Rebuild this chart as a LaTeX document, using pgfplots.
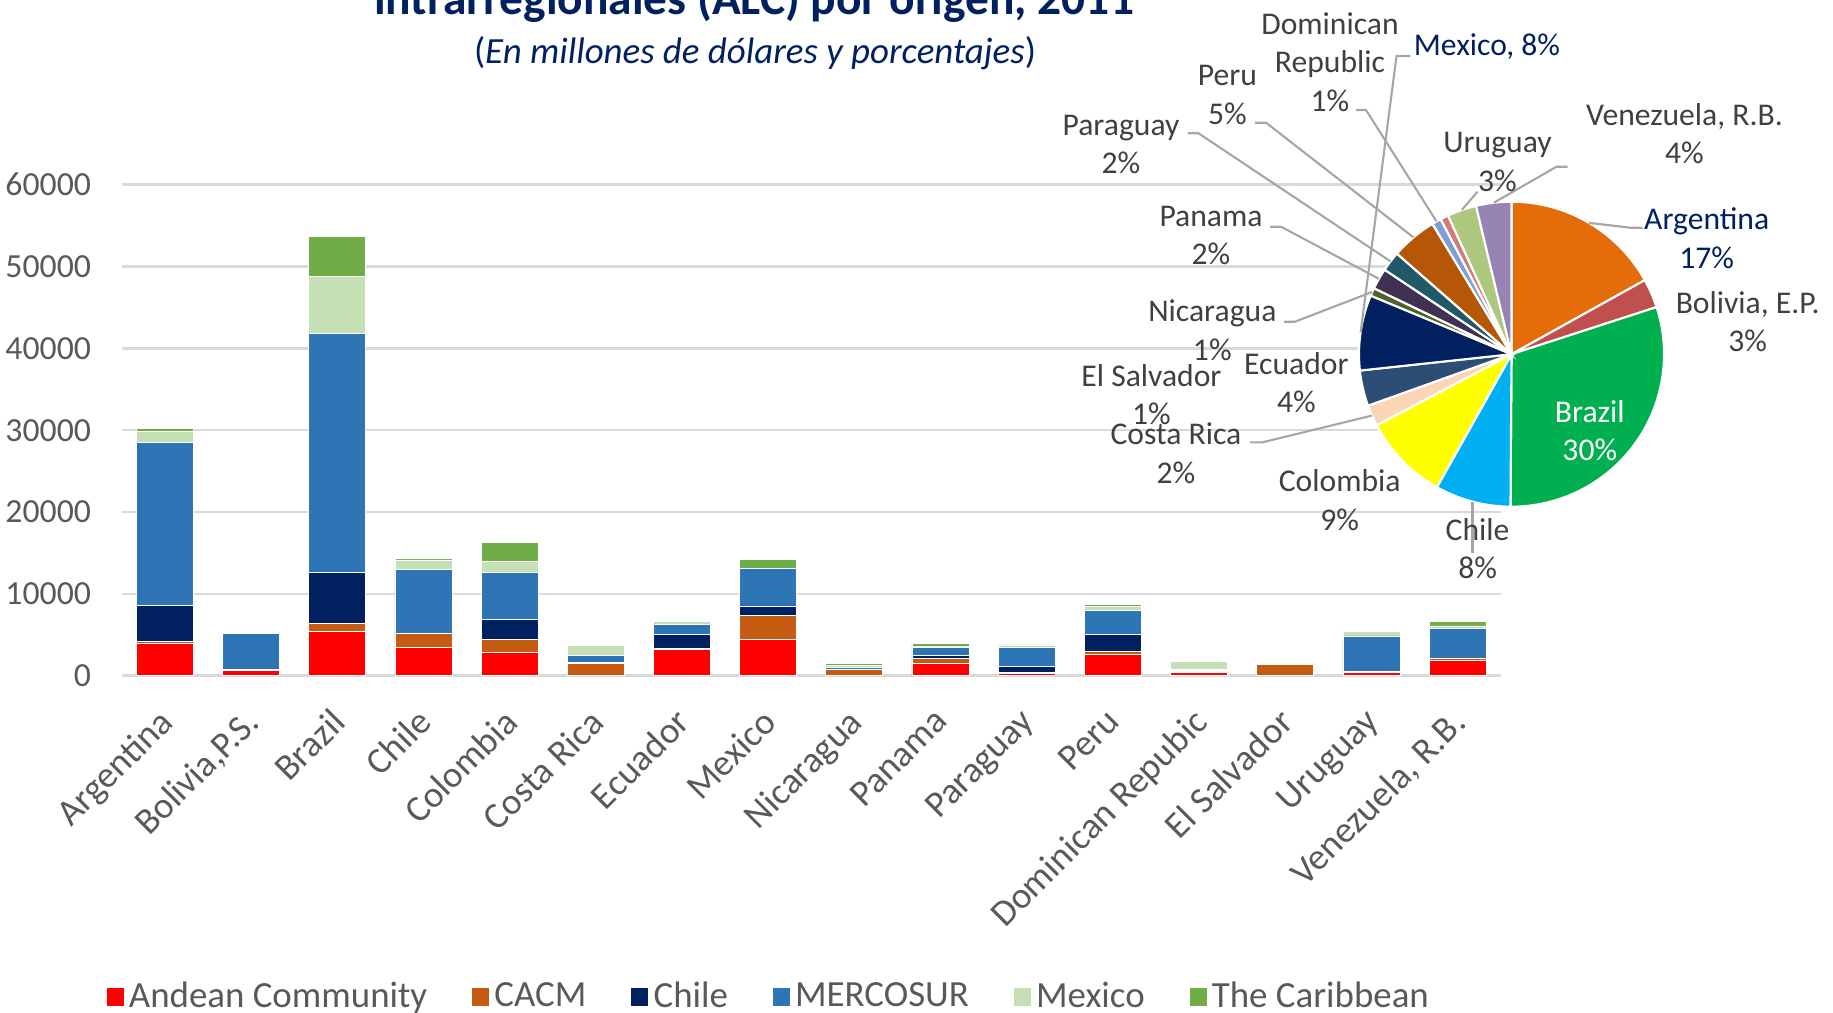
\documentclass[border=0pt]{standalone}
\usepackage{pgfplots}
\pgfplotsset{compat=1.18}
\usepackage{pgfplotstable}
\usepackage{fontspec}
\setmainfont{Carlito}
\usetikzlibrary{calc}

\definecolor{cAnd}{HTML}{FF0000}
\definecolor{cCACM}{HTML}{C55A11}
\definecolor{cChi}{HTML}{002060}
\definecolor{cMer}{HTML}{2E75B6}
\definecolor{cMex}{HTML}{C5E0B4}
\definecolor{cCar}{HTML}{70AD47}
\definecolor{tickgray}{HTML}{595959}
\definecolor{labgray}{HTML}{404040}
\definecolor{gridgray}{HTML}{D9D9D9}
\definecolor{navy}{HTML}{002060}
\definecolor{leadgray}{HTML}{A6A6A6}
% pie colours
\definecolor{pArg}{HTML}{E46C0A}
\definecolor{pBol}{HTML}{C0504D}
\definecolor{pBra}{HTML}{00B050}
\definecolor{pChi}{HTML}{00B0F0}
\definecolor{pCol}{HTML}{FFFF00}
\definecolor{pCR}{HTML}{FBD5B5}
\definecolor{pEcu}{HTML}{2C4D75}
\definecolor{pMex}{HTML}{002060}
\definecolor{pNic}{HTML}{4F6228}
\definecolor{pPan}{HTML}{403152}
\definecolor{pPar}{HTML}{215968}
\definecolor{pPer}{HTML}{B65708}
\definecolor{pDom}{HTML}{7CA0D4}
\definecolor{pSal}{HTML}{D07C7A}
\definecolor{pUru}{HTML}{ADC77E}
\definecolor{pVen}{HTML}{9883B5}

% FDI inflows by origin region (millions USD), one row per recipient country
\pgfplotstableread{
x andean cacm chile mercosur mexico carib
0 4000 200 4370 19900 1380 340
1 610 50 150 4360 160 0
2 5410 1020 6160 29200 7010 4880
3 3460 1750 0 7730 1210 170
4 2850 1550 2480 5750 1310 2310
5 100 1370 160 850 1220 170
6 3220 160 1670 1220 320 80
7 4410 2940 1180 4570 0 1140
8 30 700 30 300 160 240
9 1470 690 290 1060 80 370
10 330 120 650 2410 240 20
11 2570 410 2040 2940 490 240
12 450 120 50 200 930 20
13 0 1350 0 40 120 20
14 370 60 140 4290 570 80
15 1840 240 80 3670 250 570
}\data

% pie slice: start angle, end angle (math degrees), colour
\newcommand\pieslice[3]{\fill[#3, draw=white, line width=0.6pt] (axis cs:0,0) -- (axis cs:{cos(#1)},{sin(#1)}) arc[start angle=#1, end angle=#2, radius=1.525cm] -- cycle;}

\begin{document}
\begin{tikzpicture}
\useasboundingbox (0,0) rectangle (18.33cm,10.12cm);

% titles
\node[anchor=base, text=navy, font=\fontsize{13.5}{16}\selectfont\bfseries] at (7.54cm,9.98cm) {intrarregionales (ALC) por origen, 2011};
\node[anchor=base, text=navy, font=\fontsize{10.5}{13}\selectfont] at (7.55cm,9.49cm) {(\textit{En millones de dólares y porcentajes})};

\begin{axis}[
  at={(1.217cm,3.363cm)}, anchor=south west,
  width=13.79cm, height=4.91cm, scale only axis,
  xmin=-0.5, xmax=15.5, ymin=0, ymax=60000,
  ybar stacked, bar width=0.57cm,
  axis line style={draw=none},
  tick style={draw=none},
  ymajorgrids, grid style={gridgray, line width=0.7pt},
  ytick={0,10000,20000,30000,40000,50000,60000},
  scaled y ticks=false,
  /pgf/number format/assume math mode=true,
  yticklabel style={/pgf/number format/1000 sep={}, font=\fontsize{9.6}{12}\selectfont, text=tickgray, inner sep=0pt, xshift=-0.30cm},
  xtick={0,...,15},
  xticklabels={Argentina,{Bolivia,P.S.},Brazil,Chile,Colombia,Costa Rica,Ecuador,Mexico,Nicaragua,Panama,Paraguay,Peru,Dominican Repubic,El Salvador,Uruguay,{Venezuela, R.B.}},
  xticklabel style={font=\fontsize{10.5}{12}\selectfont, text=tickgray, inner sep=0pt, xshift=-0.08cm, yshift=-0.30cm, rotate=45, anchor=north east},
  legend columns=6,
  legend style={draw=none, fill=none, at={(-0.0121,-0.655)}, anchor=west, inner sep=0pt,
    font=\fontsize{10.5}{12}\selectfont, text=tickgray,
    nodes={inner sep=0.045cm},
    /tikz/every even column/.append style={column sep=0.395cm}},
  legend image code/.code={\fill[#1] (0cm,-0.095cm) rectangle (0.18cm,0.1cm);},
]
\addplot[fill=cAnd, draw=white, line width=0.2pt] table[x=x,y=andean]{\data};
\addplot[fill=cCACM, draw=white, line width=0.2pt] table[x=x,y=cacm]{\data};
\addplot[fill=cChi, draw=white, line width=0.2pt] table[x=x,y=chile]{\data};
\addplot[fill=cMer, draw=white, line width=0.2pt] table[x=x,y=mercosur]{\data};
\addplot[fill=cMex, draw=white, line width=0.2pt] table[x=x,y=mexico]{\data};
\addplot[fill=cCar, draw=white, line width=0.2pt] table[x=x,y=carib]{\data};
\legend{Andean Community, CACM, Chile, MERCOSUR, Mexico, The Caribbean}
\end{axis}

% pie: shares of country totals (angles clockwise from top)
\begin{axis}[
  at={(15.115cm,6.578cm)}, anchor=center,
  width=3.05cm, height=3.05cm, scale only axis,
  xmin=-1, xmax=1, ymin=-1, ymax=1, hide axis, clip=false,
]
\pieslice{90}{29.05}{pArg}
\pieslice{29.05}{17.99}{pBol}
\pieslice{17.99}{-90.39}{pBra}
\pieslice{-90.39}{-119.30}{pChi}
\pieslice{-119.30}{-152.21}{pCol}
\pieslice{-152.21}{-160.27}{pCR}
\pieslice{-160.27}{-173.84}{pEcu}
\pieslice{-173.84}{-202.59}{pMex}
\pieslice{-202.59}{-205.62}{pNic}
\pieslice{-205.62}{-213.66}{pPan}
\pieslice{-213.66}{-221.29}{pPar}
\pieslice{-221.29}{-238.75}{pPer}
\pieslice{-238.75}{-242.32}{pDom}
\pieslice{-242.32}{-245.41}{pSal}
\pieslice{-245.41}{-256.55}{pUru}
\pieslice{-256.55}{-270}{pVen}
\end{axis}

% leader lines
\begin{scope}[leadgray, line width=0.6pt]
\draw (14.10cm,9.56cm) -- (13.965cm,9.56cm) -- (13.606cm,6.796cm);
\draw (13.56cm,9.02cm) -- (13.66cm,9.02cm) -- (14.365cm,7.906cm);
\draw (12.55cm,8.893cm) -- (12.66cm,8.893cm) -- (14.135cm,7.746cm);
\draw (11.875cm,8.787cm) -- (11.985cm,8.787cm) -- (13.905cm,7.506cm);
\draw (12.70cm,7.853cm) -- (12.81cm,7.853cm) -- (13.789cm,7.332cm);
\draw (12.84cm,6.903cm) -- (12.95cm,6.903cm) -- (13.723cm,7.201cm);
\draw (15.675cm,8.453cm) -- (15.565cm,8.453cm) -- (14.937cm,8.092cm);
\draw (14.775cm,8.203cm) -- (14.618cm,8.02cm);
\draw (16.425cm,7.843cm) -- (16.30cm,7.843cm) -- (15.889cm,7.892cm);
\draw (12.50cm,5.697cm) -- (12.625cm,5.697cm) -- (13.719cm,5.964cm);
\draw (14.725cm,5.104cm) -- (14.725cm,4.59cm);
\end{scope}

% pie labels
\begin{scope}[every node/.style={font=\fontsize{9}{11}\selectfont, text=labgray, align=center}]
\node at (13.30cm,9.50cm) {Dominican\\Republic\\1\%};
\node[text=navy] at (14.87cm,9.652cm) {Mexico, 8\%};
\node at (12.275cm,9.173cm) {Peru\\5\%};
\node at (11.21cm,8.676cm) {Paraguay\\2\%};
\node at (14.975cm,8.501cm) {Uruguay\\3\%};
\node at (16.845cm,8.782cm) {Venezuela, R.B.\\4\%};
\node[text=navy] at (17.067cm,7.741cm) {Argentina\\17\%};
\node at (17.477cm,6.905cm) {Bolivia, E.P.\\3\%};
\node at (12.11cm,7.765cm) {Panama\\2\%};
\node at (12.123cm,6.818cm) {Nicaragua\\1\%};
\node at (12.964cm,6.292cm) {Ecuador\\4\%};
\node at (11.515cm,6.175cm) {El Salvador\\1\%};
\node at (11.76cm,5.59cm) {Costa Rica\\2\%};
\node at (13.397cm,5.117cm) {Colombia\\9\%};
\node at (14.776cm,4.632cm) {Chile\\8\%};
\node[text=white] at (15.898cm,5.812cm) {Brazil\\30\%};
\end{scope}
\end{tikzpicture}
\end{document}
